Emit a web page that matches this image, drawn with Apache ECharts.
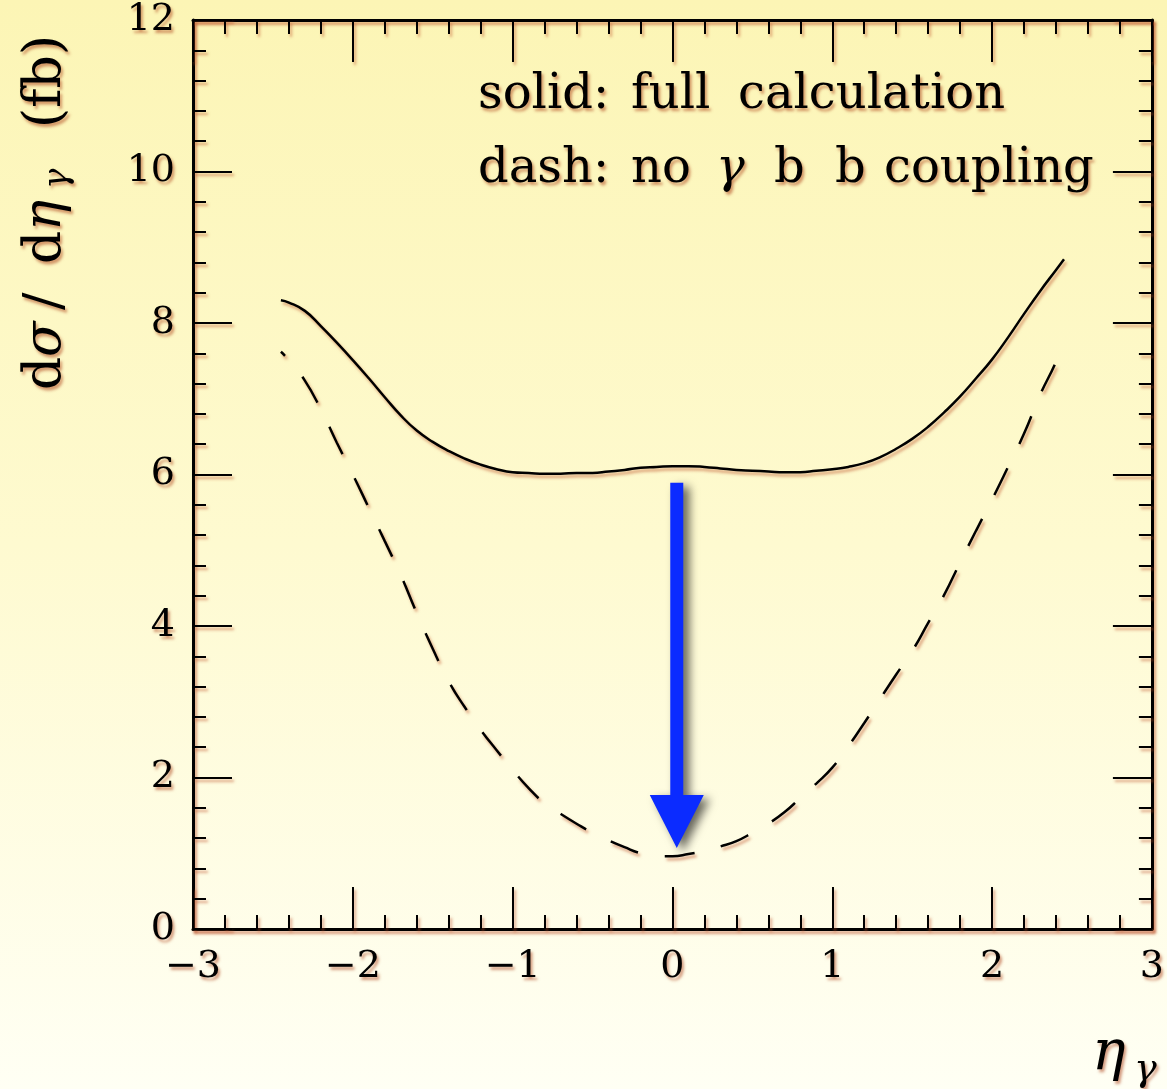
<!DOCTYPE html>
<html><head><meta charset="utf-8">
<script src="https://cdn.jsdelivr.net/npm/echarts@6/dist/echarts.min.js"></script>
<style>html,body{margin:0;padding:0;background:#fffde0;}#c{width:1167px;height:1089px;}</style>
</head><body><div id="c"></div>
<script>
// ---- data ----
const etaValues = [-2.45,-2.4,-2.3,-2.2,-2.1,-2.0,-1.9,-1.8,-1.7,-1.6,-1.5,-1.4,-1.3,-1.2,-1.1,-1.0,-0.9,-0.8,-0.7,-0.6,-0.5,-0.4,-0.3,-0.2,-0.1,0,0.1,0.2,0.3,0.4,0.5,0.6,0.7,0.8,0.9,1.0,1.1,1.2,1.3,1.4,1.5,1.6,1.7,1.8,1.9,2.0,2.1,2.2,2.3,2.4,2.45];
const fullCalculation = [8.30,8.27,8.16,7.96,7.74,7.51,7.27,7.02,6.78,6.58,6.43,6.31,6.21,6.13,6.07,6.03,6.02,6.01,6.01,6.02,6.02,6.04,6.06,6.09,6.10,6.11,6.11,6.10,6.08,6.06,6.05,6.04,6.03,6.03,6.05,6.07,6.10,6.15,6.23,6.34,6.47,6.63,6.82,7.03,7.27,7.52,7.81,8.12,8.42,8.70,8.84];
const noGammaBBCoupling = [7.62,7.51,7.24,6.86,6.42,6.00,5.56,5.12,4.67,4.17,3.70,3.27,2.93,2.63,2.36,2.10,1.86,1.66,1.52,1.39,1.27,1.17,1.08,1.00,0.96,0.96,0.99,1.03,1.09,1.16,1.27,1.39,1.54,1.73,1.92,2.13,2.41,2.72,3.04,3.36,3.67,4.04,4.41,4.84,5.26,5.67,6.10,6.54,7.05,7.49,7.78];
const xRange = [-3, 3];
const yRange = [0, 12];
// arrow annotation: eta position, start value, head base value, tip value
const arrowEta = [0.027];
const arrowStart = [5.89];
const arrowHeadBase = [1.77];
const arrowTip = [1.07];

const FONT = '"DejaVu Serif"';
const textShadow = {textShadowColor:'rgba(175,70,30,0.55)', textShadowBlur:3, textShadowOffsetX:2, textShadowOffsetY:3};
const lineShadow = {shadowColor:'rgba(190,80,40,0.55)', shadowBlur:3, shadowOffsetX:2, shadowOffsetY:3};
const minusFmt = v => (v < 0 ? '\u2212' + Math.abs(v) : String(v));

function axisBase(extra) {
  return Object.assign({
    type: 'value',
    axisLine: {show: true, onZero: false, lineStyle: Object.assign({color: '#000', width: 3}, lineShadow)},
    splitLine: {show: false},
    minorSplitLine: {show: false}
  }, extra);
}
function xAxisCfg(pos, showLabel) {
  return axisBase({
    position: pos, min: xRange[0], max: xRange[1], interval: 1,
    axisTick: {show: true, inside: true, length: 42, lineStyle: Object.assign({color: '#000', width: 2}, lineShadow)},
    minorTick: {show: true, splitNumber: 5, length: 14, lineStyle: Object.assign({color: '#000', width: 2}, lineShadow)},
    axisLabel: {show: showLabel, margin: 19, color: '#000', fontFamily: FONT, fontSize: 38, formatter: minusFmt, ...textShadow}
  });
}
function yAxisCfg(pos, showLabel) {
  return axisBase({
    position: pos, min: yRange[0], max: yRange[1], interval: 2,
    axisTick: {show: true, inside: true, length: 39, lineStyle: Object.assign({color: '#000', width: 2}, lineShadow)},
    minorTick: {show: true, splitNumber: 5, length: 13, lineStyle: Object.assign({color: '#000', width: 2}, lineShadow)},
    axisLabel: {show: showLabel, margin: 18, color: '#000', fontFamily: FONT, fontSize: 38, formatter: minusFmt, ...textShadow}
  });
}

function word(txt, x, y, size, italic) {
  return {type: 'text', x: x, y: y, z: 10,
    style: Object.assign({text: txt, fill: '#000', fontFamily: 'DejaVu Serif', fontSize: size,
      fontStyle: italic ? 'italic' : 'normal', textAlign: 'left', textVerticalAlign: 'middle'}, textShadow)};
}

const chart = echarts.init(document.getElementById('c'), null, {renderer: 'canvas'});
chart.setOption({
  animation: false,
  backgroundColor: new echarts.graphic.LinearGradient(0, 0, 0, 1, [
    {offset: 0, color: '#fcf5b5'}, {offset: 0.5, color: '#fefad0'}, {offset: 1, color: '#fffff4'}
  ]),
  grid: {left: 193, right: 10, top: 20, bottom: 160, containLabel: false},
  xAxis: [xAxisCfg('bottom', true), xAxisCfg('top', false)],
  yAxis: [yAxisCfg('left', true), yAxisCfg('right', false)],
  series: [
    {name: 'solid: full calculation', type: 'line', xAxisIndex: 0, yAxisIndex: 0,
      data: etaValues.map((x, i) => [x, fullCalculation[i]]),
      symbol: 'none', smooth: 0.5, z: 3,
      lineStyle: Object.assign({color: '#000', width: 2.5}, lineShadow)},
    {name: 'dash: no γ b b coupling', type: 'line', xAxisIndex: 0, yAxisIndex: 0,
      data: etaValues.map((x, i) => [x, noGammaBBCoupling[i]]),
      symbol: 'none', smooth: 0.5, z: 3,
      lineStyle: Object.assign({color: '#000', width: 2.5, type: [30, 27], dashOffset: 24}, lineShadow)},
    {name: 'arrow', type: 'custom', xAxisIndex: 0, yAxisIndex: 0, z: 5, silent: true, clip: false,
      data: arrowEta.map((x, i) => [x, arrowStart[i], arrowHeadBase[i], arrowTip[i]]),
      renderItem: function (params, api) {
        const top = api.coord([api.value(0), api.value(1)]);
        const base = api.coord([api.value(0), api.value(2)]);
        const tip = api.coord([api.value(0), api.value(3)]);
        const sw = 6.5, hw = 27;
        return {type: 'polygon',
          shape: {points: [[top[0] - sw, top[1]], [top[0] + sw, top[1]], [base[0] + sw, base[1]], [base[0] + hw, base[1]],
            [tip[0], tip[1]], [base[0] - hw, base[1]], [base[0] - sw, base[1]]]},
          style: {fill: '#0b2bff', shadowColor: 'rgba(0,0,0,0.6)', shadowBlur: 10, shadowOffsetX: 6, shadowOffsetY: 4}};
      }}
  ],
  graphic: [
    // legend-like annotation
    word('solid:', 478, 96, 48), word('full', 631, 96, 48), word('calculation', 738, 96, 48),
    word('dash:', 478, 170, 48), word('no', 631, 170, 48), word('γ', 716, 170, 48, true),
    word('b', 774, 170, 48), word('b', 835, 170, 48), word('coupling', 884, 170, 48),
    // x-axis title
    word('η', 1092, 1054, 56, true), word('γ', 1134, 1070, 38, true),
    // y-axis title (rotated)
    {type: 'group', x: 46, y: 212, rotation: Math.PI / 2, children: [
      word('d', -178, 0, 52), word('σ', -145, 0, 52, true), word('/', -98, 0, 52),
      word('d', -52, 0, 52), word('η', -19, 0, 52, true), word('γ', 23, 12, 34, true),
      word('(fb)', 84, 0, 52)
    ]}
  ]
});
</script>
</body></html>
